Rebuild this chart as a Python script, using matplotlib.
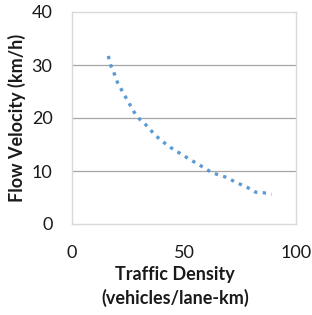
import matplotlib

matplotlib.use("Agg")
import matplotlib.pyplot as plt  # noqa: E402

# Values.
density = [16.2, 17.4, 18.5, 20.2, 22.9, 25.6, 28.3, 30.4, 33.0, 37.5,
           43.0, 50.6, 58.6, 62.4, 68.9, 73.5, 78.3, 82.0, 85.4, 89.1]
velocity = [31.7, 29.8, 28.8, 26.8, 24.7, 22.7, 20.7, 19.7, 18.7, 16.6,
            14.7, 12.7, 10.7, 9.7, 8.8, 7.8, 6.9, 6.0, 5.9, 5.6]
x_ticks = [0, 50, 100]
y_ticks = [0, 10, 20, 30, 40]

plt.rcParams["font.family"] = ["Lato", "DejaVu Sans"]

fig = plt.figure(figsize=(3.12, 3.15), dpi=100)
ax = fig.add_axes([72 / 312, 91 / 315, 224 / 312, 212 / 315])

ax.plot(density, velocity, color="#5B9BD5", linewidth=2.4,
        linestyle=(0, (1, 1.6)), dash_capstyle="butt")

ax.set_xlim(0, 100)
ax.set_ylim(0, 40)
ax.set_xticks(x_ticks)
ax.set_yticks(y_ticks)
for y in y_ticks[1:-1]:
    ax.axhline(y, color="#A6A6A6", linewidth=0.9, zorder=0)
for s in ax.spines.values():
    s.set_color("#D9D9D9")
    s.set_linewidth(1.0)
ax.tick_params(length=0, labelsize=13, colors="#1a1a1a")
ax.tick_params(axis="y", pad=14)
ax.tick_params(axis="x", pad=15)

ax.set_xlabel("Traffic Density\n(vehicles/lane-km)", fontsize=13,
              fontweight="bold", color="#1a1a1a", linespacing=1.4)
ax.xaxis.set_label_coords((175 - 72) / 224, -0.198, transform=ax.transAxes)
ax.xaxis.label.set_verticalalignment("top")
ax.set_ylabel("Flow Velocity (km/h)", fontsize=13, fontweight="bold",
              color="#1a1a1a")
ax.yaxis.set_label_coords(-0.205, 0.5, transform=ax.transAxes)

fig.savefig("out.png", dpi=100)
plt.close(fig)
